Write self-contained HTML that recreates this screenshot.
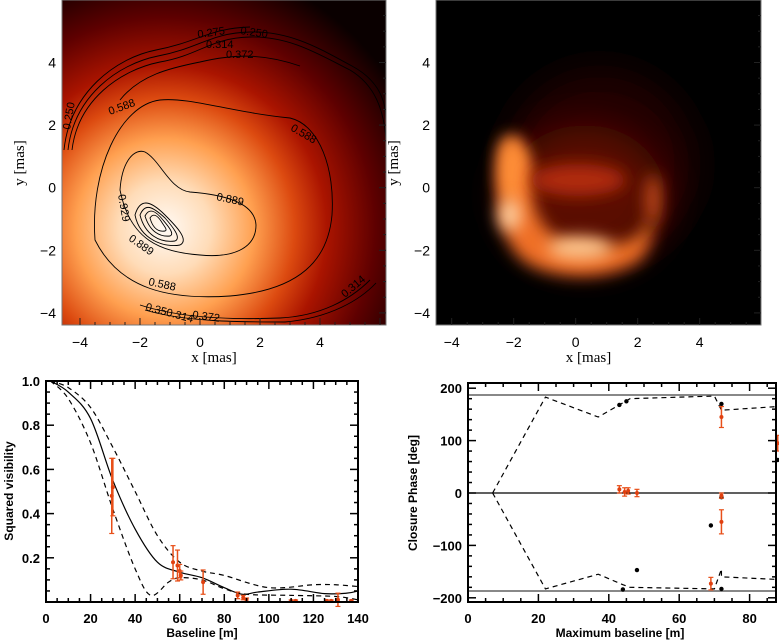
<!DOCTYPE html>
<html><head><meta charset="utf-8"><style>
html,body{margin:0;padding:0;background:#fff;}
svg{display:block;font-family:"Liberation Sans",sans-serif;}
</style></head><body>
<svg id="fig" width="779" height="641" viewBox="0 0 779 641">
<defs>
<radialGradient id="gl" cx="165" cy="228" r="270" gradientUnits="userSpaceOnUse">
<stop offset="0" stop-color="#fffaf5"/><stop offset="0.17" stop-color="#ffdcb8"/><stop offset="0.33" stop-color="#ffa050"/><stop offset="0.48" stop-color="#dc4a10"/><stop offset="0.6" stop-color="#aa1400"/><stop offset="0.78" stop-color="#5e0000"/><stop offset="1" stop-color="#0a0000"/></radialGradient>
<filter id="bl" filterUnits="userSpaceOnUse" x="380" y="-50" width="450" height="450"><feGaussianBlur stdDeviation="8"/></filter>
<filter id="bl2" filterUnits="userSpaceOnUse" x="380" y="-50" width="450" height="450"><feGaussianBlur stdDeviation="18"/></filter>
<clipPath id="cr"><rect x="436" y="0" width="325" height="325"/></clipPath>
</defs>

<g>
<rect x="62" y="0" width="324" height="325" fill="url(#gl)"/>
<g fill="none" stroke="#000" stroke-width="0.9">
<path d="M72,150 C78,100 120,70 160,62 C200,55 210,38 250,37 C290,36 320,55 350,70 C375,85 384,110 386,140"/>
<path d="M68,150 C74,96 118,64 158,56 C200,48 210,33 250,32 C292,31 322,50 352,66 C378,80 386,100 386,120"/>
<path d="M64,150 C70,92 116,58 156,50 C198,42 210,28 250,27"/>
<path d="M120,100 C140,75 170,68 200,62 C230,55 260,52 300,66"/>
<path d="M95,240 C90,170 120,105 160,100 C190,97 230,112 290,118 C320,125 335,170 332,215 C328,260 300,290 230,296 C170,300 120,290 95,240 Z"/>
<path d="M120,190 C122,160 135,148 145,152 C160,160 170,190 190,192 C230,195 255,205 256,225 C256,250 230,258 200,255 C160,252 130,240 120,190 Z"/>
<path d="M135,215 C140,198 150,200 165,215 C175,225 190,240 180,245 C165,248 140,240 135,215 Z"/>
<path d="M140,215 C145,203 152,206 165,218 C172,226 182,238 175,241 C160,243 145,235 140,215 Z"/>
<path d="M145,216 C149,208 155,210 163,220 C168,226 175,234 170,236 C160,237 150,232 145,216 Z"/>
<path d="M150,218 C153,213 157,215 161,221 C164,226 168,230 165,231 C159,232 153,229 150,218 Z"/>
<path d="M140,305 C180,318 230,320 280,318 C320,316 350,300 370,280"/>
<path d="M145,310 C185,322 240,322 285,322 C330,318 360,300 376,283"/>
</g>
<g font-size="11" fill="#000">
<text x="198" y="38" transform="rotate(-8 198 38)">0.275</text><text x="240" y="34" transform="rotate(8 240 34)">0.250</text>
<text x="206" y="48">0.314</text><text x="226" y="58">0.372</text>
<text x="110" y="115" transform="rotate(-20 110 115)">0.588</text><text x="290" y="130" transform="rotate(30 290 130)">0.588</text>
<text x="216" y="200" transform="rotate(12 216 200)">0.889</text><text x="118" y="195" transform="rotate(80 118 195)">0.929</text>
<text x="128" y="240" transform="rotate(35 128 240)">0.889</text><text x="148" y="285" transform="rotate(12 148 285)">0.588</text>
<text x="192" y="318" transform="rotate(8 192 318)">0.372</text><text x="145" y="310" transform="rotate(15 145 310)">0.350.314</text>
<text x="345" y="298" transform="rotate(-40 345 298)">0.314</text><text x="70" y="130" transform="rotate(-80 70 130)">0.250</text>
</g>
</g>

<g clip-path="url(#cr)">
<rect x="436" y="0" width="325" height="325" fill="#000"/>
<ellipse cx="600" cy="165" rx="95" ry="95" fill="#240000" filter="url(#bl2)"/>
<ellipse cx="585" cy="195" rx="80" ry="70" fill="#5a0a00" filter="url(#bl2)"/>
<path d="M500,150 C505,130 520,135 530,160 C535,190 525,215 560,240 C600,250 640,245 645,225 C650,210 660,235 640,260 C610,280 560,280 530,265 C505,250 495,220 500,150 Z" fill="#f07028" filter="url(#bl)"/>
<ellipse cx="512" cy="170" rx="13" ry="33" fill="#ff9038" filter="url(#bl)"/>
<ellipse cx="510" cy="215" rx="11" ry="16" fill="#ffd0a0" filter="url(#bl)"/>
<ellipse cx="580" cy="248" rx="32" ry="11" fill="#ffc890" filter="url(#bl)"/>
<ellipse cx="578" cy="180" rx="48" ry="16" fill="#b02a08" filter="url(#bl)"/>
<ellipse cx="653" cy="200" rx="7" ry="26" fill="#d0501a" filter="url(#bl)"/>
</g>

<g id="topaxes"></g>
<g id="bl-chart"></g>
<g id="br-chart"></g>
</svg>
<script>
// ---- Visibility chart data ----
const visSolidX=[2,10,20,30,40,50,60,70,80,88,95,110,125,135,140];
const visSolidY=[1.0,0.95,0.83,0.55,0.33,0.18,0.135,0.11,0.065,0.035,0.045,0.058,0.038,0.04,0.05];
const visUpX=[2,10,20,30,40,50,60,70,80,100,120,130,140];
const visUpY=[1.0,0.97,0.88,0.7,0.5,0.3,0.18,0.14,0.12,0.065,0.078,0.078,0.07];
const visLoX=[2,10,20,30,40,47,55,60,70,80,90,110,130,140];
const visLoY=[1.0,0.92,0.72,0.42,0.15,0.03,0.09,0.11,0.1,0.06,0.035,0.03,0.025,0.01];
const visObsX=[29.5,30,57,59,60,60.5,70.5,86,88.5,90,110,112,126,128,131,137];
const visObsY=[0.48,0.52,0.18,0.165,0.14,0.12,0.09,0.03,0.02,0.01,0.005,0.005,0.005,0.005,0.01,0.005];
const visObsE=[0.17,0.13,0.075,0.07,0.03,0.02,0.055,0.015,0.01,0.008,0.004,0.004,0.004,0.004,0.03,0.004];
const visXTicks=[0,20,40,60,80,100,120,140];
const visYTicks=[0.2,0.4,0.6,0.8,1.0];
// ---- Closure phase data ----
const cpUpX=[7,22,37,44,46,70,72,88];
const cpUpY=[0,183,145,172,180,185,158,165];
const cpLoX=[7,22,37,44,46,70,72,72,88];
const cpLoY=[0,-183,-155,-175,-180,-183,-145,-160,-165];
const cpModX=[43,45,72,72,69,88,48,44,72];
const cpModY=[168,175,170,-8,-62,63,-147,-184,-183];
const cpObsX=[43,44.5,45.5,48,72,72,72,69,88];
const cpObsY=[7,2,4,0,145,-55,-5,-173,95];
const cpObsE=[7,8,6,7,20,23,5,12,15];
const cpXTicks=[0,20,40,60,80];
const cpYTicks=[-200,-100,0,100,200];
const cpRef=[187,-187];
const imgTicks=[-4,-2,0,2,4];

const NS="http://www.w3.org/2000/svg";
function mk(parent,tag,attrs,text){const e=document.createElementNS(NS,tag);for(const k in attrs)e.setAttribute(k,attrs[k]);if(text!==undefined)e.textContent=text;parent.appendChild(e);return e;}

function frame(g,L,T,R,B,xs,ys,xmin,xmax,ymin,ymax,xmaj,xmin_,ymaj,ymin_,col){
  const r=mk(g,'rect',{x:L,y:T,width:R-L,height:B-T,fill:'none',stroke:col,'stroke-width':2});
  
  
  for(let v=Math.ceil(xmin/xmin_)*xmin_;v<=xmax+1e-9;v+=xmin_){
    const maj=Math.abs(v/xmaj-Math.round(v/xmaj))<1e-6, len=maj?8:4, x=xs(v);
    mk(g,'line',{x1:x,y1:B,x2:x,y2:B-len,stroke:col,'stroke-width':1.5});
    mk(g,'line',{x1:x,y1:T,x2:x,y2:T+len,stroke:col,'stroke-width':1.5});
  }
  for(let v=Math.ceil(ymin/ymin_)*ymin_;v<=ymax+1e-9;v+=ymin_){
    const maj=Math.abs(v/ymaj-Math.round(v/ymaj))<1e-6, len=maj?8:4, y=ys(v);
    mk(g,'line',{x1:L,y1:y,x2:L+len,y2:y,stroke:col,'stroke-width':1.5});
    mk(g,'line',{x1:R,y1:y,x2:R-len,y2:y,stroke:col,'stroke-width':1.5});
  }
}
function smoothPath(pts){
  let d='M'+pts[0][0]+','+pts[0][1];
  for(let i=0;i<pts.length-1;i++){
    const p0=pts[i-1]||pts[i],p1=pts[i],p2=pts[i+1],p3=pts[i+2]||p2;
    const c1=[p1[0]+(p2[0]-p0[0])/6,p1[1]+(p2[1]-p0[1])/6];
    const c2=[p2[0]-(p3[0]-p1[0])/6,p2[1]-(p3[1]-p1[1])/6];
    d+=' C'+c1.join(',')+' '+c2.join(',')+' '+p2.join(',');
  }
  return d;
}
function curve(g,xsA,ysA,xs,ys,dash,name,smooth){
  const pts=xsA.map((x,i)=>[xs(x),ys(ysA[i])]);
  const d=smooth?smoothPath(pts):'M'+pts.map(p=>p.join(',')).join(' L');
  const p=mk(g,'path',{d:d,fill:'none',stroke:'#000','stroke-width':1.2});
  if(dash)p.setAttribute('stroke-dasharray','5,4');
  
  
}
function errs(g,X,Y,E,xs,ys,name){
  X.forEach((x,i)=>{
    const gg=mk(g,'g',{});
    
    
    const px=xs(x),y1=ys(Y[i]-E[i]),y2=ys(Y[i]+E[i]);
    mk(gg,'line',{x1:px,y1:y1,x2:px,y2:y2,stroke:'#e8501a','stroke-width':1.5});
    mk(gg,'line',{x1:px-2.5,y1:y1,x2:px+2.5,y2:y1,stroke:'#e8501a','stroke-width':1.2});
    mk(gg,'line',{x1:px-2.5,y1:y2,x2:px+2.5,y2:y2,stroke:'#e8501a','stroke-width':1.2});
    mk(gg,'circle',{cx:px,cy:ys(Y[i]),r:2,fill:'#e04010'});
  });
}

(function(){
  const g=document.getElementById('bl-chart');
  const L=46,R=358,T=381,B=602;
  const xs=v=>L+(v/140)*(R-L), ys=v=>B-v*(B-T);
  curve(g,visUpX,visUpY,xs,ys,true,'model-upper-dashed',true);
  curve(g,visLoX,visLoY,xs,ys,true,'model-lower-dashed',true);
  curve(g,visSolidX,visSolidY,xs,ys,false,'model-solid-curve',true);
  errs(g,visObsX,visObsY,visObsE,xs,ys,'observed-visibility');
  frame(g,L,T,R,B,xs,ys,0,140,0,1,20,5,0.2,0.05,'#000');
  visXTicks.forEach(v=>{const t=mk(g,'text',{x:xs(v),y:623,'text-anchor':'middle','font-size':13,'font-weight':'bold'},String(v));});
  visYTicks.forEach(v=>{const t=mk(g,'text',{x:40,y:ys(v)+5,'text-anchor':'end','font-size':13,'font-weight':'bold'},v.toFixed(1));});
  const xt=mk(g,'text',{x:202,y:637,'text-anchor':'middle','font-size':12,'font-weight':'bold'},'Baseline [m]');
  
  const yt=mk(g,'text',{x:13,y:491,'text-anchor':'middle','font-size':12,'font-weight':'bold',transform:'rotate(-90 13 491)'},'Squared visibility');
  
})();

(function(){
  const g=document.getElementById('br-chart');
  const L=468,R=776,T=383,B=602,ymax=208,xmax=87.5;
  const xs=v=>L+v*3.52, ys=v=>493-v*0.524;
  cpRef.forEach(v=>{const l=mk(g,'line',{x1:L,y1:ys(v),x2:R,y2:ys(v),stroke:'#888','stroke-width':2});});
  const z=mk(g,'line',{x1:L,y1:ys(0),x2:R,y2:ys(0),stroke:'#000','stroke-width':1.2});
  
  curve(g,cpUpX,cpUpY,xs,ys,true,'model-upper-dashed',false);
  curve(g,cpLoX,cpLoY,xs,ys,true,'model-lower-dashed',false);
  cpModX.forEach((x,i)=>{const c=mk(g,'circle',{cx:xs(x),cy:ys(cpModY[i]),r:2.2,fill:'#000'});});
  errs(g,cpObsX,cpObsY,cpObsE,xs,ys,'observed-phase');
  frame(g,L,T,R,B,xs,ys,0,xmax,-ymax,ymax,20,5,100,20,'#000');
  cpXTicks.forEach(v=>{const t=mk(g,'text',{x:xs(v),y:623,'text-anchor':'middle','font-size':13,'font-weight':'bold'},String(v));});
  cpYTicks.forEach(v=>{const t=mk(g,'text',{x:462,y:ys(v)+5,'text-anchor':'end','font-size':13,'font-weight':'bold'},v<0?'\u2212'+(-v):String(v));});
  const xt=mk(g,'text',{x:620,y:637,'text-anchor':'middle','font-size':12,'font-weight':'bold'},'Maximum baseline [m]');
  
  const yt=mk(g,'text',{x:417,y:493,'text-anchor':'middle','font-size':12,'font-weight':'bold',transform:'rotate(-90 417 493)'},'Closure Phase [deg]');
  
})();

(function(){
  const g=document.getElementById('topaxes');
  [[62,386,80,30],[436,761,451.7,31]].forEach(([L,R,x4,sc],k)=>{
    const xs=v=>x4+(v+4)*sc, ys=v=>187.7-v*31.3;
    mk(g,'rect',{x:L,y:0,width:R-L,height:325,fill:'none',stroke:'#777','stroke-width':1});
    for(let v=-4;v<=6;v+=0.5){const x=xs(v);if(x<L||x>R)continue;const len=(v%2===0)?7:3;
      mk(g,'line',{x1:x,y1:325,x2:x,y2:325-len,stroke:'#222','stroke-width':1});}
    for(let v=-4;v<=6;v+=0.5){const y=ys(v);if(y<0||y>325)continue;const len=(v%2===0)?7:3;
      mk(g,'line',{x1:R,y1:y,x2:R-len,y2:y,stroke:'#222','stroke-width':1});}
    imgTicks.forEach(v=>{
      const t=mk(g,'text',{x:xs(v),y:347,'text-anchor':'middle','font-size':14},v<0?'\u2212'+(-v):String(v));
      
      const t2=mk(g,'text',{x:L-6,y:ys(v)+5,'text-anchor':'end','font-size':14},v<0?'\u2212'+(-v):String(v));
      
    });
    const xt=mk(g,'text',{x:(L+R)/2-10,y:362,'text-anchor':'middle','font-size':15,'font-family':'Liberation Serif, serif'},'x [mas]');
    
    const yx=L-38;
    const yt=mk(g,'text',{x:yx,y:163,'text-anchor':'middle','font-size':15,'font-family':'Liberation Serif, serif',transform:'rotate(-90 '+yx+' 163)'},'y [mas]');
    
  });
})();
</script>
</body></html>
